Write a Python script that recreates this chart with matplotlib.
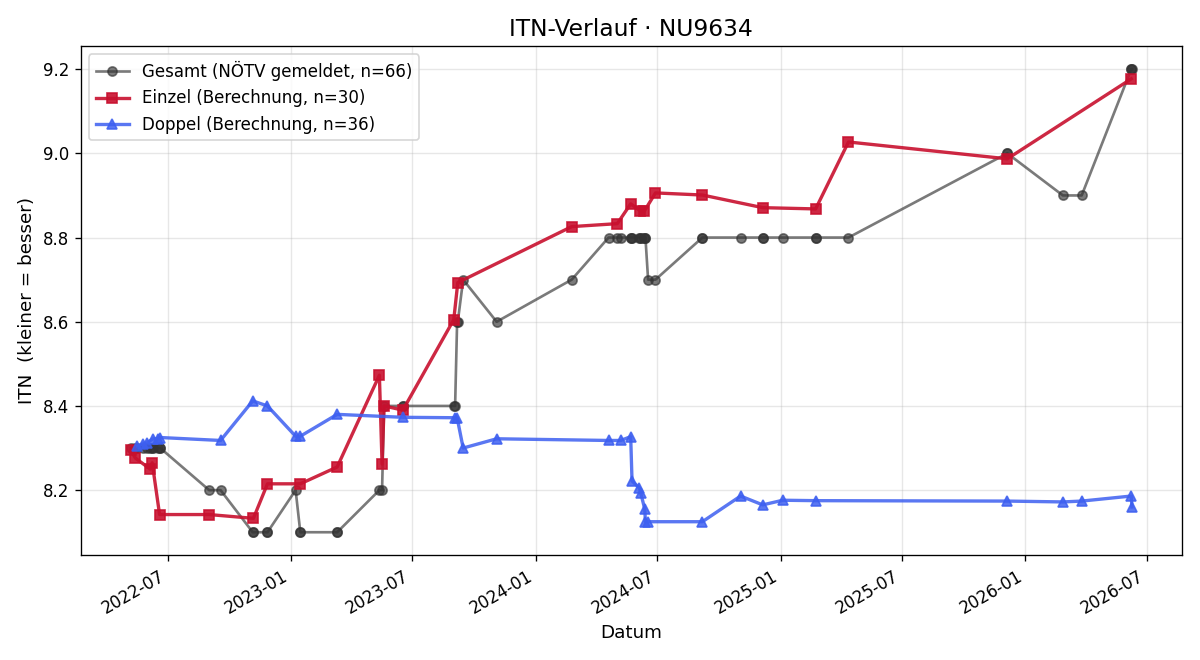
import pandas as pd
import matplotlib
matplotlib.use('Agg')
import matplotlib.pyplot as plt
import matplotlib.dates as mdates

# Gesamt (NÖTV gemeldet) - ein Eintrag pro Spiel
gesamt_dates = ['2022-05-07', '2022-05-14', '2022-05-17', '2022-05-25', '2022-05-31', '2022-06-05',
                '2022-06-08', '2022-06-09', '2022-06-16', '2022-06-19', '2022-06-20',
                '2022-09-01', '2022-09-18', '2022-11-05', '2022-11-06', '2022-11-27', '2022-11-27',
                '2023-01-08', '2023-01-15', '2023-01-15', '2023-03-11', '2023-03-11',
                '2023-05-13', '2023-05-17', '2023-05-20', '2023-06-17', '2023-06-17',
                '2023-09-01', '2023-09-03', '2023-09-06', '2023-09-07', '2023-09-15', '2023-11-04',
                '2024-02-24', '2024-04-19', '2024-05-02', '2024-05-07', '2024-05-22', '2024-05-22',
                '2024-05-24', '2024-06-04', '2024-06-05', '2024-06-06', '2024-06-11', '2024-06-12',
                '2024-06-13', '2024-06-17', '2024-06-28', '2024-09-06', '2024-09-06', '2024-11-02',
                '2024-12-05', '2024-12-05', '2025-01-04', '2025-02-22', '2025-02-22', '2025-04-12',
                '2025-12-05', '2025-12-05', '2026-02-26', '2026-03-26',
                '2026-06-08', '2026-06-08', '2026-06-09']
gesamt_itn = [8.3, 8.3, 8.3, 8.3, 8.3, 8.3,
              8.3, 8.3, 8.3, 8.3, 8.3,
              8.2, 8.2, 8.1, 8.1, 8.1, 8.1,
              8.2, 8.1, 8.1, 8.1, 8.1,
              8.2, 8.2, 8.4, 8.4, 8.4,
              8.4, 8.4, 8.6, 8.6, 8.7, 8.6,
              8.7, 8.8, 8.8, 8.8, 8.8, 8.8,
              8.8, 8.8, 8.8, 8.8, 8.8, 8.8,
              8.8, 8.7, 8.7, 8.8, 8.8, 8.8,
              8.8, 8.8, 8.8, 8.8, 8.8, 8.8,
              9.0, 9.0, 8.9, 8.9,
              9.2, 9.2, 9.2]

# Einzel (Berechnung)
einzel_dates = ['2022-05-07', '2022-05-14', '2022-06-05', '2022-06-08', '2022-06-19', '2022-09-01',
                '2022-11-06', '2022-11-27', '2023-01-15', '2023-03-11', '2023-05-13', '2023-05-17',
                '2023-05-20', '2023-06-17', '2023-09-01', '2023-09-07', '2024-02-24', '2024-05-02',
                '2024-05-22', '2024-06-05', '2024-06-11', '2024-06-28', '2024-09-06', '2024-12-05',
                '2025-02-22', '2025-04-12', '2025-12-05', '2026-06-08']
einzel_itn = [8.295, 8.276, 8.250, 8.265, 8.142, 8.142,
              8.133, 8.215, 8.215, 8.255, 8.473, 8.262,
              8.400, 8.390, 8.605, 8.693, 8.826, 8.833,
              8.880, 8.864, 8.862, 8.906, 8.901, 8.871,
              8.868, 9.027, 8.987, 9.177]

# Doppel (Berechnung)
doppel_dates = ['2022-05-17', '2022-05-25', '2022-05-31', '2022-06-09', '2022-06-16', '2022-06-20',
                '2022-09-18', '2022-11-05', '2022-11-27', '2023-01-08', '2023-01-15', '2023-03-11',
                '2023-06-17', '2023-09-03', '2023-09-06', '2023-09-15', '2023-11-04', '2024-04-19',
                '2024-05-07', '2024-05-22', '2024-05-24', '2024-06-04', '2024-06-06', '2024-06-12',
                '2024-06-13', '2024-06-17', '2024-09-06', '2024-11-02', '2024-12-05', '2025-01-04',
                '2025-02-22', '2025-12-05', '2026-02-26', '2026-03-26', '2026-06-08', '2026-06-09']
doppel_itn = [8.305, 8.310, 8.312, 8.322, 8.322, 8.325,
              8.318, 8.412, 8.400, 8.328, 8.328, 8.380,
              8.373, 8.372, 8.372, 8.300, 8.322, 8.318,
              8.318, 8.327, 8.222, 8.205, 8.193, 8.155,
              8.125, 8.125, 8.125, 8.186, 8.165, 8.176,
              8.175, 8.174, 8.172, 8.174, 8.186, 8.160]

gesamt = pd.Series(gesamt_itn, index=pd.to_datetime(gesamt_dates))
einzel = pd.Series(einzel_itn, index=pd.to_datetime(einzel_dates))
doppel = pd.Series(doppel_itn, index=pd.to_datetime(doppel_dates))

fig, ax = plt.subplots(figsize=(10, 5.5), dpi=120)

ax.plot(gesamt.index, gesamt.values, color='#333333', alpha=0.65, lw=1.6, marker='o', ms=5.5,
        label='Gesamt (NÖTV gemeldet, n=66)')
ax.plot(einzel.index, einzel.values, color='#c8102e', alpha=0.9, lw=2, marker='s', ms=6.5,
        label='Einzel (Berechnung, n=30)')
ax.plot(doppel.index, doppel.values, color='#3d5ff0', alpha=0.85, lw=2, marker='^', ms=6.5,
        label='Doppel (Berechnung, n=36)')

ax.xaxis.set_major_locator(mdates.MonthLocator(bymonth=[1, 7]))
ax.xaxis.set_major_formatter(mdates.DateFormatter('%Y-%m'))
fig.autofmt_xdate()

ax.set_title('ITN-Verlauf · NU9634', fontsize=14)
ax.set_xlabel('Datum', fontsize=11)
ax.set_ylabel('ITN  (kleiner = besser)', fontsize=11)
ax.grid(True, alpha=0.3)
ax.legend(loc='upper left')

plt.tight_layout()
plt.savefig('out.png')
